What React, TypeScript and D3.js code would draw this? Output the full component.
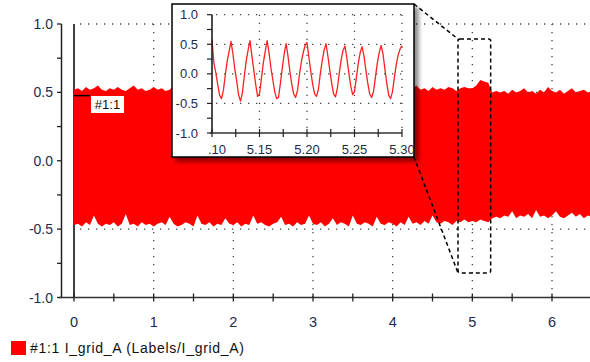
import React from "react";
import * as d3 from "d3";

// ---- data ----
const envStart = 0;
const envStep = 0.05;
const upperEnv = [
  0.52,0.53,0.51,0.54,0.52,0.53,0.55,0.52,0.51,0.53,0.52,0.54,0.52,0.51,0.53,0.55,0.52,0.53,0.51,0.52,
  0.54,0.52,0.53,0.51,0.52,0.55,0.53,0.52,0.51,0.53,0.54,0.52,0.53,0.51,0.52,0.54,0.53,0.52,0.55,0.52,
  0.51,0.53,0.52,0.54,0.52,0.51,0.53,0.55,0.52,0.53,0.51,0.52,0.54,0.52,0.53,0.51,0.53,0.52,0.54,0.52,
  0.53,0.51,0.52,0.54,0.53,0.52,0.51,0.53,0.55,0.52,0.53,0.52,0.51,0.54,0.52,0.53,0.52,0.54,0.51,0.53,
  0.52,0.54,0.53,0.51,0.52,0.53,0.55,0.52,0.53,0.51,0.54,0.52,0.53,0.52,0.54,0.53,0.51,0.53,0.54,0.53,
  0.53,0.55,0.59,0.58,0.57,0.50,0.51,0.50,0.51,0.49,0.52,0.50,0.51,0.53,0.50,0.51,0.49,0.52,0.50,0.54,
  0.51,0.50,0.52,0.49,0.51,0.53,0.50,0.51,0.52,0.50,0.51,
];
const lowerEnv = [
  -0.47,-0.46,-0.48,-0.45,-0.47,-0.40,-0.46,-0.48,-0.46,-0.47,-0.45,-0.48,-0.46,-0.39,-0.47,-0.46,-0.48,-0.45,-0.47,-0.46,
  -0.48,-0.46,-0.45,-0.47,-0.41,-0.46,-0.48,-0.47,-0.45,-0.46,-0.48,-0.40,-0.46,-0.47,-0.45,-0.48,-0.46,-0.47,-0.42,-0.46,
  -0.47,-0.45,-0.48,-0.46,-0.47,-0.40,-0.46,-0.45,-0.47,-0.48,-0.46,-0.45,-0.41,-0.47,-0.46,-0.48,-0.45,-0.47,-0.46,-0.40,
  -0.46,-0.47,-0.45,-0.48,-0.46,-0.42,-0.47,-0.45,-0.46,-0.48,-0.40,-0.46,-0.47,-0.45,-0.46,-0.48,-0.41,-0.46,-0.47,-0.45,
  -0.46,-0.48,-0.45,-0.47,-0.41,-0.46,-0.45,-0.47,-0.44,-0.46,-0.40,-0.45,-0.46,-0.44,-0.45,-0.47,-0.44,-0.45,-0.43,-0.45,
  -0.44,-0.45,-0.43,-0.44,-0.45,-0.42,-0.41,-0.42,-0.40,-0.41,-0.37,-0.42,-0.40,-0.41,-0.39,-0.42,-0.36,-0.41,-0.40,-0.42,
  -0.40,-0.37,-0.41,-0.42,-0.40,-0.38,-0.41,-0.39,-0.42,-0.40,-0.41,
];

const insetStart = 5.1;
const insetStep = 0.002;
const insetValues = [
  0.58,0.18,0.02,-0.18,-0.36,-0.42,-0.28,-0.02,0.22,0.38,
  0.55,0.34,0.08,-0.12,-0.36,-0.46,-0.32,-0.04,0.22,0.40,
  0.56,0.30,0.06,-0.18,-0.38,-0.34,-0.08,0.18,0.38,0.56,
  0.36,0.10,-0.10,-0.30,-0.42,-0.40,-0.16,0.10,0.34,0.51,
  0.30,0.04,-0.18,-0.34,-0.40,-0.28,-0.02,0.20,0.36,0.48,
  0.53,0.28,0.04,-0.18,-0.34,-0.38,-0.26,0.00,0.22,0.40,
  0.51,0.30,0.06,-0.16,-0.34,-0.39,-0.24,0.02,0.24,0.40,
  0.47,0.26,0.02,-0.20,-0.35,-0.30,-0.06,0.18,0.36,0.46,
  0.30,0.06,-0.16,-0.34,-0.40,-0.30,-0.06,0.18,0.36,0.48,
  0.34,0.08,-0.16,-0.36,-0.42,-0.30,-0.06,0.16,0.32,0.42,
  0.48,
];

const mainXTicks = [0, 1, 2, 3, 4, 5, 6];
const mainYTicks = [1.0, 0.5, 0.0, -0.5, -1.0];
const insetXTicks = [5.1, 5.15, 5.2, 5.25, 5.3];
const insetXLabels = [".10", "5.15", "5.20", "5.25", "5.30"];
const insetYTicks = [1.0, 0.5, 0.0, -0.5, -1.0];
const zoomT = [4.82, 5.23];
const zoomV = [-0.82, 0.89];
const seriesLabel = "#1:1";
const legendText = "#1:1 I_grid_A (Labels/I_grid_A)";
const cursorT = 0;
const markerV = 0.48;

const FONT = "'Liberation Sans', Arial, sans-serif";
const TXT = "#1e2b4a";
const RED = "#ff0000";

export default function App() {
  const x = d3.scaleLinear().domain([0, 6]).range([74, 552]);
  const y = d3.scaleLinear().domain([-1, 1]).range([297.5, 24]);
  const ix = d3.scaleLinear().domain([5.1, 5.3]).range([212, 402]);
  const iy = d3.scaleLinear().domain([-1, 1]).range([133, 14.7]);

  const env = upperEnv.map((u, i) => ({ t: envStart + i * envStep, hi: u, lo: lowerEnv[i] }));
  const area = d3.area<any>().x((d) => x(d.t)).y0((d) => y(d.lo)).y1((d) => y(d.hi));
  const insetPts = insetValues.map((v, i) => ({ t: insetStart + i * insetStep, v }));
  const line = d3.line<any>().x((d) => ix(d.t)).y((d) => iy(d.v));

  const xMinor = d3.range(0, 13).map((i) => i * 0.5);
  const yMinor = d3.range(-4, 5).map((i) => i * 0.25);
  const ixMinor = d3.range(0, 9).map((i) => 5.1 + i * 0.025);
  const iyMinor = d3.range(-4, 5).map((i) => i * 0.25);

  const insetBox = { x0: 172, y0: 4, x1: 414, y1: 157 };
  const zx0 = x(zoomT[0]), zx1 = x(zoomT[1]), zy0 = y(zoomV[1]), zy1 = y(zoomV[0]);

  const dotted = { stroke: "#444", strokeWidth: 1.3, strokeDasharray: "1.3,6.7" };

  return (
    <svg width={590} height={362} style={{ position: "absolute", left: 0, top: 0, background: "#fff" }} fontFamily={FONT}>
      <defs>
        <clipPath id="plotclip"><rect x={62} y={0} width={528} height={300} /></clipPath>
        <filter id="shadow" x="-10%" y="-10%" width="130%" height="130%">
          <feDropShadow dx={4} dy={4} stdDeviation={2.2} floodColor="#000" floodOpacity={0.45} />
        </filter>
      </defs>

      {/* main grid */}
      {mainXTicks.filter((t) => t > 0).map((t) => (
        <line key={"gx" + t} x1={x(t)} x2={x(t)} y1={y(1)} y2={y(-1)} {...dotted} />
      ))}
      {mainYTicks.filter((v) => v > -1).map((v) => (
        <line key={"gy" + v} x1={x(0) + 6} x2={590} y1={y(v)} y2={y(v)} {...dotted} />
      ))}

      {/* cursor line */}
      <line x1={x(cursorT)} x2={x(cursorT)} y1={y(1)} y2={y(-1)} stroke="#000" strokeWidth={1.5} />

      {/* signal envelope */}
      <path d={area(env) || ""} fill={RED} clipPath="url(#plotclip)" />

      {/* marker label */}
      <line x1={x(cursorT)} x2={x(cursorT) + 16} y1={y(markerV) + 0.5} y2={y(markerV) + 0.5} stroke="#000" strokeWidth={1.5} />
      <rect x={91} y={96} width={33} height={17} fill="#fff" />
      <text x={107.5} y={109} fontSize={13} textAnchor="middle" fill="#111">{seriesLabel}</text>

      {/* main axes */}
      <line x1={61.5} x2={61.5} y1={y(1)} y2={y(-1)} stroke="#222" strokeWidth={1.5} />
      {yMinor.map((v) => (
        <line key={"yt" + v} x1={57} x2={61.5} y1={y(v)} y2={y(v)} stroke="#222" strokeWidth={1.3} />
      ))}
      {mainYTicks.map((v) => (
        <text key={"yl" + v} x={53} y={y(v) + 5} fontSize={14} textAnchor="end" fill={TXT}>{v.toFixed(1)}</text>
      ))}
      <line x1={59} x2={590} y1={y(-1)} y2={y(-1)} stroke="#333" strokeWidth={1.6} />
      {xMinor.map((t) => (
        <line key={"xt" + t} x1={x(t)} x2={x(t)} y1={y(-1) - 4} y2={y(-1) + 4} stroke="#222" strokeWidth={1.3} />
      ))}
      {mainXTicks.map((t) => (
        <text key={"xl" + t} x={x(t)} y={327} fontSize={14.5} textAnchor="middle" fill={TXT}>{String(t)}</text>
      ))}

      {/* zoom connectors */}
      <line x1={insetBox.x1} y1={insetBox.y0} x2={zx0} y2={zy0} stroke="#000" strokeWidth={1.5} strokeDasharray="4,3" />
      <line x1={insetBox.x1} y1={insetBox.y1} x2={zx0} y2={zy1} stroke="#000" strokeWidth={1.5} strokeDasharray="4,3" />
      <rect x={zx0} y={zy0} width={zx1 - zx0} height={zy1 - zy0} rx={2} fill="none" stroke="#000" strokeWidth={1.5} strokeDasharray="4,3" />

      {/* inset */}
      <rect x={insetBox.x0} y={insetBox.y0} width={insetBox.x1 - insetBox.x0} height={insetBox.y1 - insetBox.y0}
        fill="#fff" stroke="#000" strokeWidth={1.5} filter="url(#shadow)" />
      {insetXTicks.filter((t) => t > 5.1).map((t) => (
        <line key={"igx" + t} x1={ix(t)} x2={ix(t)} y1={iy(1)} y2={iy(-1)} {...dotted} />
      ))}
      {insetYTicks.filter((v) => v > -1).map((v) => (
        <line key={"igy" + v} x1={ix(5.1) + 4} x2={ix(5.3)} y1={iy(v)} y2={iy(v)} {...dotted} />
      ))}
      <path d={line(insetPts) || ""} fill="none" stroke="#ff2020" strokeWidth={1.3} strokeLinejoin="round" />
      <line x1={ix(5.1)} x2={ix(5.1)} y1={iy(1)} y2={iy(-1)} stroke="#111" strokeWidth={1.5} />
      {iyMinor.map((v) => (
        <line key={"iyt" + v} x1={ix(5.1) - 5} x2={ix(5.1)} y1={iy(v)} y2={iy(v)} stroke="#222" strokeWidth={1.2} />
      ))}
      {insetYTicks.map((v) => (
        <text key={"iyl" + v} x={198} y={iy(v) + 4.5} fontSize={13} textAnchor="end" fill={TXT}>{v.toFixed(1)}</text>
      ))}
      <line x1={ix(5.1) - 2} x2={ix(5.3)} y1={iy(-1)} y2={iy(-1)} stroke="#333" strokeWidth={1.5} />
      {ixMinor.map((t) => (
        <line key={"ixt" + t} x1={ix(t)} x2={ix(t)} y1={iy(-1) - 4} y2={iy(-1) + 4} stroke="#222" strokeWidth={1.2} />
      ))}
      {insetXTicks.map((t, i) => (
        <text key={"ixl" + t} x={i === 0 ? ix(t) - 4 : ix(t)} y={154} fontSize={13} textAnchor={i === 0 ? "start" : "middle"} fill={TXT}>{insetXLabels[i]}</text>
      ))}

      {/* legend */}
      <rect x={11} y={341} width={15} height={14} fill={RED} />
      <text x={30} y={352.5} fontSize={14} letterSpacing={0.7} fill="#111">{legendText}</text>
    </svg>
  );
}
